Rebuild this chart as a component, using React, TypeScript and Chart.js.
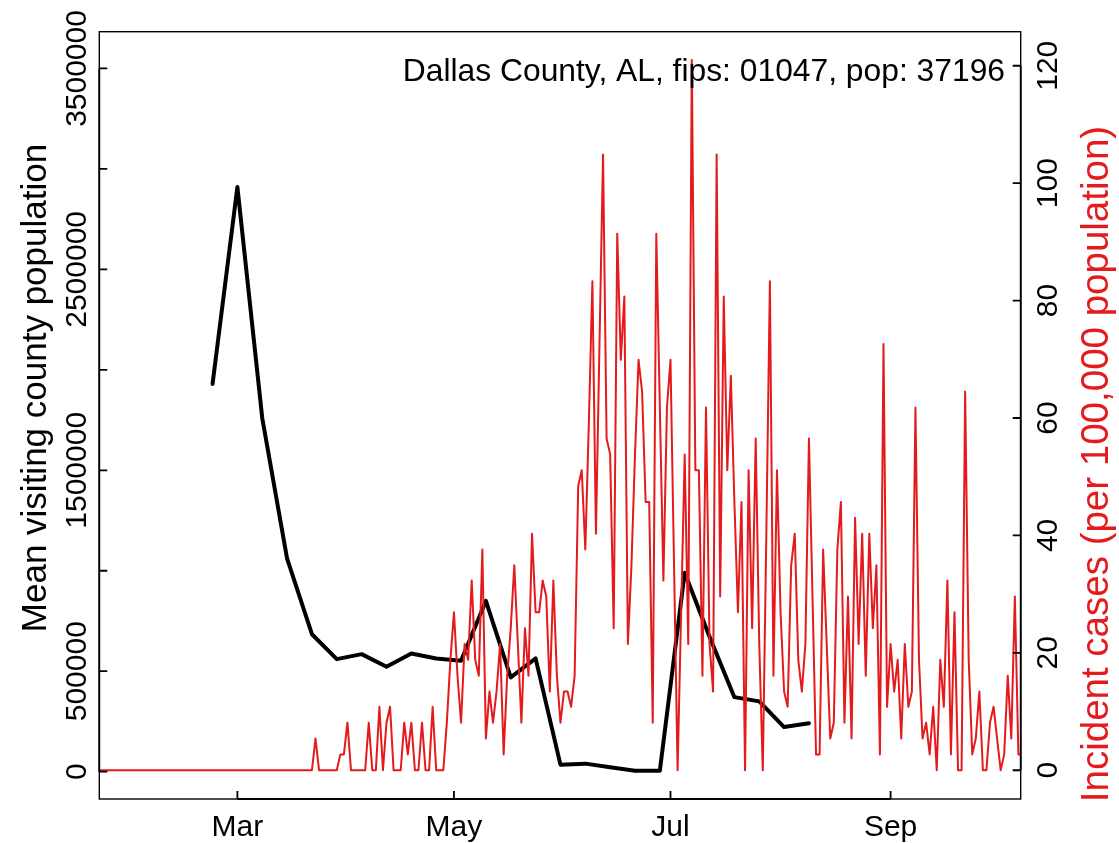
import React, { useEffect, useRef } from 'react';
import { Chart, registerables } from 'chart.js';

Chart.register(...registerables);

const FONT = '"Liberation Sans", Arial, Helvetica, sans-serif';
const RED = 'rgb(228,26,28)';

const chartTitle = 'Dallas County, AL, fips: 01047, pop: 37196';
const leftAxisTitle = 'Mean visiting county population';
const rightAxisTitle = 'Incident cases (per 100,000 population)';

// x values are day-of-year 2020 (Jan 1 = 1)
const monthTickDays = [61, 122, 183, 245];
const monthTickLabels = ['Mar', 'May', 'Jul', 'Sep'];

const visitTickValues = [0, 500000, 1000000, 1500000, 2000000, 2500000, 3000000, 3500000];
const visitTickLabels = ['0', '500000', '', '1500000', '', '2500000', '', '3500000'];

const caseTickValues = [0, 20, 40, 60, 80, 100, 120];
const caseTickLabels = ['0', '20', '40', '60', '80', '100', '120'];

// weekly mean visiting county population
const visitDays = [54, 61, 68, 75, 82, 89, 96, 103, 110, 117, 124, 131, 138, 145, 152, 159, 166, 173, 180, 187, 194, 201, 208, 215, 222];
const visitValues = [1930000, 2910000, 1760000, 1060000, 684000, 560000, 585000, 522000, 588000, 563000, 552000, 850000, 469000, 564000, 35000, 40000, 22000, 5000, 5000, 990000, 672000, 371000, 350000, 222000, 241000];

// daily incident cases per 100,000, starting on day 22 (Jan 22)
const caseStartDay = 22;
const incidentCases = [
  0, 0, 0, 0, 0, 0, 0, 0, 0, 0,
  0, 0, 0, 0, 0, 0, 0, 0, 0, 0,
  0, 0, 0, 0, 0, 0, 0, 0, 0, 0,
  0, 0, 0, 0, 0, 0, 0, 0, 0, 0,
  0, 0, 0, 0, 0, 0, 0, 0, 0, 0,
  0, 0, 0, 0, 0, 0, 0, 0, 0, 0,
  0, 5.4, 0, 0, 0, 0, 0, 0, 2.7, 2.7,
  8.1, 0, 0, 0, 0, 0, 8.1, 0, 0, 10.8,
  0, 8.1, 10.8, 0, 0, 0, 8.1, 2.7, 8.1, 0,
  0, 8.1, 0, 0, 10.8, 0, 0, 0, 8.1, 18.8,
  26.9, 16.1, 8.1, 21.5, 18.8, 32.3, 18.8, 16.1, 37.6, 5.4,
  13.4, 8.1, 13.4, 21.5, 2.7, 16.1, 24.2, 34.9, 21.5, 8.1,
  24.2, 16.1, 40.3, 26.9, 26.9, 32.3, 29.6, 13.4, 32.3, 16.1,
  8.1, 13.4, 13.4, 10.8, 16.1, 48.4, 51.1, 37.6, 59.1, 83.3,
  40.3, 72.6, 104.9, 56.5, 53.8, 24.2, 91.4, 69.9, 80.7, 21.5,
  34.9, 53.8, 69.9, 64.5, 45.7, 45.7, 8.1, 91.4, 61.8, 32.3,
  61.8, 69.9, 34.9, 0, 26.9, 53.8, 21.5, 121.0, 51.1, 51.1,
  16.1, 61.8, 21.5, 13.4, 104.9, 29.6, 80.7, 51.1, 67.2, 45.7,
  26.9, 45.7, 0, 51.1, 24.2, 56.5, 21.5, 0, 40.3, 83.3,
  16.1, 51.1, 26.9, 13.4, 10.8, 34.9, 40.3, 18.8, 13.4, 21.5,
  56.5, 29.6, 2.7, 2.7, 37.6, 21.5, 5.4, 8.1, 37.6, 45.7,
  8.1, 29.6, 5.4, 43.0, 21.5, 40.3, 16.1, 40.3, 24.2, 34.9,
  2.7, 72.6, 10.8, 21.5, 13.4, 18.8, 5.4, 21.5, 10.8, 13.4,
  61.8, 18.8, 5.4, 8.1, 2.7, 10.8, 0, 18.8, 10.8, 32.3,
  2.7, 26.9, 0, 0, 64.5, 18.8, 2.7, 5.4, 13.4, 0,
  0, 8.1, 10.8, 5.4, 0, 2.7, 16.1, 5.4, 29.6, 2.7,
  2.7,
];

const TICK_FONT = `30px ${FONT}`;
const TITLE_FONT = `31.8px ${FONT}`;
const LEFT_TITLE_FONT = `35px ${FONT}`;
const RIGHT_TITLE_FONT = `38.5px ${FONT}`;
const TICK_LEN = 8;

function rotatedText(ctx: CanvasRenderingContext2D, text: string, x: number, y: number, font: string, color: string) {
  ctx.save();
  ctx.translate(x, y);
  ctx.rotate(-Math.PI / 2);
  ctx.font = font;
  ctx.fillStyle = color;
  ctx.textAlign = 'center';
  ctx.textBaseline = 'alphabetic';
  ctx.fillText(text, 0, 0);
  ctx.restore();
}

const rStylePlugin = {
  id: 'rStyle',
  afterDraw(chart: any) {
    const { ctx, chartArea: a, scales } = chart;
    const xs = scales.x;
    const yl = scales.yVisit;
    const yr = scales.yCases;
    ctx.save();
    ctx.strokeStyle = '#000';
    ctx.lineCap = 'butt';
    ctx.lineWidth = 1.4;
    ctx.strokeRect(a.left, a.top, a.right - a.left, a.bottom - a.top);

    ctx.lineWidth = 1.8;
    ctx.beginPath();
    const xp = xs.ticks.map((t: any) => xs.getPixelForValue(t.value));
    ctx.moveTo(xp[0], a.bottom);
    ctx.lineTo(xp[xp.length - 1], a.bottom);
    xp.forEach((p: number) => { ctx.moveTo(p, a.bottom); ctx.lineTo(p, a.bottom - TICK_LEN); });
    const lp = yl.ticks.map((t: any) => yl.getPixelForValue(t.value));
    ctx.moveTo(a.left, lp[0]);
    ctx.lineTo(a.left, lp[lp.length - 1]);
    lp.forEach((p: number) => { ctx.moveTo(a.left, p); ctx.lineTo(a.left + TICK_LEN, p); });
    const rp = yr.ticks.map((t: any) => yr.getPixelForValue(t.value));
    ctx.moveTo(a.right, rp[0]);
    ctx.lineTo(a.right, rp[rp.length - 1]);
    rp.forEach((p: number) => { ctx.moveTo(a.right, p); ctx.lineTo(a.right - TICK_LEN, p); });
    ctx.stroke();

    yl.ticks.forEach((t: any) => {
      const label = visitTickLabels[visitTickValues.indexOf(t.value)] ?? '';
      if (label) rotatedText(ctx, label, 86, yl.getPixelForValue(t.value), TICK_FONT, '#000');
    });
    yr.ticks.forEach((t: any) => {
      const label = caseTickLabels[caseTickValues.indexOf(t.value)] ?? '';
      if (label) rotatedText(ctx, label, 1057, yr.getPixelForValue(t.value), TICK_FONT, '#000');
    });

    rotatedText(ctx, leftAxisTitle, 46, 388, LEFT_TITLE_FONT, '#000');
    rotatedText(ctx, rightAxisTitle, 1108, 464, RIGHT_TITLE_FONT, RED);

    ctx.font = TITLE_FONT;
    ctx.fillStyle = '#000';
    ctx.textAlign = 'right';
    ctx.textBaseline = 'alphabetic';
    ctx.fillText(chartTitle, 1005, 81);
    ctx.restore();
  },
};

export default function App() {
  const canvasRef = useRef<HTMLCanvasElement | null>(null);

  useEffect(() => {
    const canvas = canvasRef.current;
    if (!canvas) return;
    const caseData = incidentCases.map((v, i) => ({ x: caseStartDay + i, y: v }));
    const visitData = visitDays.map((d, i) => ({ x: d, y: visitValues[i] }));

    const chart = new Chart(canvas, {
      type: 'line',
      data: {
        datasets: [
          {
            label: 'Incident cases',
            data: caseData,
            xAxisID: 'x',
            yAxisID: 'yCases',
            borderColor: RED,
            borderWidth: 2,
            pointRadius: 0,
            tension: 0,
            fill: false,
            borderJoinStyle: 'round',
            order: 0,
          },
          {
            label: 'Mean visiting county population',
            data: visitData,
            xAxisID: 'x',
            yAxisID: 'yVisit',
            borderColor: '#000',
            borderWidth: 4,
            pointRadius: 0,
            tension: 0,
            fill: false,
            borderJoinStyle: 'round',
            borderCapStyle: 'round',
            order: 1,
          },
        ],
      },
      options: {
        responsive: false,
        animation: false,
        devicePixelRatio: 1,
        events: [],
        layout: { padding: { top: 31.7, left: 0, right: 0, bottom: 0 } },
        plugins: { legend: { display: false }, tooltip: { enabled: false }, title: { display: false } },
        scales: {
          x: {
            type: 'linear',
            position: 'bottom',
            min: 22.1,
            max: 281.65,
            afterBuildTicks: (s: any) => { s.ticks = monthTickDays.map((v) => ({ value: v })); },
            afterFit: (s: any) => { s.height = 44; },
            grid: { display: false, drawTicks: false },
            border: { display: false },
            ticks: {
              autoSkip: false,
              maxRotation: 0,
              minRotation: 0,
              padding: 11,
              color: '#000',
              font: { family: FONT, size: 30 },
              callback: (v: any) => monthTickLabels[monthTickDays.indexOf(Number(v))] ?? '',
            },
          },
          yVisit: {
            type: 'linear',
            position: 'left',
            min: -136000,
            max: 3683000,
            afterBuildTicks: (s: any) => { s.ticks = visitTickValues.map((v) => ({ value: v })); },
            afterFit: (s: any) => { s.width = 99.3; },
            grid: { display: false },
            border: { display: false },
            ticks: { display: false },
          },
          yCases: {
            type: 'linear',
            position: 'right',
            min: -4.9,
            max: 125.8,
            afterBuildTicks: (s: any) => { s.ticks = caseTickValues.map((v) => ({ value: v })); },
            afterFit: (s: any) => { s.width = 98.3; },
            grid: { display: false },
            border: { display: false },
            ticks: { display: false },
          },
        },
      },
      plugins: [rStylePlugin],
    } as any);

    return () => chart.destroy();
  }, []);

  return (
    <div style={{ position: 'fixed', left: 0, top: 0, width: 1119, height: 843, background: '#fff' }}>
      <canvas ref={canvasRef} width={1119} height={843} style={{ width: 1119, height: 843, display: 'block' }} />
    </div>
  );
}
